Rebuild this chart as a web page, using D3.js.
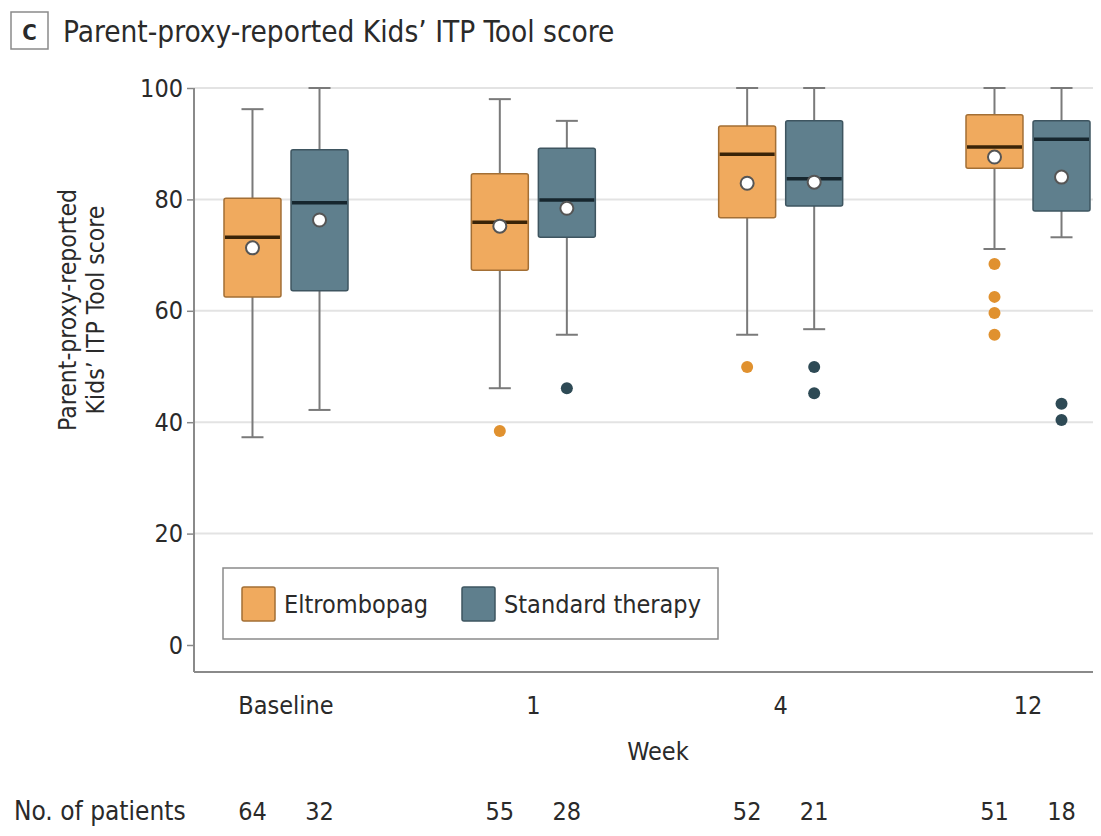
<!DOCTYPE html>
<html>
<head>
<meta charset="utf-8">
<script src="https://cdn.jsdelivr.net/npm/d3@7"></script>
<style>
  html, body { margin: 0; padding: 0; background: #fff; }
  svg { display: block; }
  text { font-family: "DejaVu Sans Condensed", "Roboto", sans-serif; fill: #2a2a2a; }
</style>
</head>
<body>
<svg id="chart" width="1101" height="836"></svg>
<script>
// ---- data ----
const groups = ["Baseline", "1", "4", "12"];
const series = ["Eltrombopag", "Standard therapy"];
const yTicks = [0, 20, 40, 60, 80, 100];

const eltWhiskerLow  = [37.3, 46.1, 55.7, 71.1];
const eltQ1          = [62.5, 67.3, 76.7, 85.6];
const eltMedian      = [73.2, 75.9, 88.1, 89.4];
const eltQ3          = [80.2, 84.6, 93.2, 95.2];
const eltWhiskerHigh = [96.2, 98.0, 100, 100];
const eltMean        = [71.3, 75.2, 82.9, 87.6];
const eltOutliers    = [[], [38.4], [49.9], [68.4, 62.5, 59.6, 55.7]];

const stdWhiskerLow  = [42.2, 55.7, 56.7, 73.2];
const stdQ1          = [63.6, 73.2, 78.8, 77.9];
const stdMedian      = [79.4, 79.9, 83.7, 90.8];
const stdQ3          = [88.9, 89.2, 94.1, 94.1];
const stdWhiskerHigh = [100, 94.1, 100, 100];
const stdMean        = [76.3, 78.4, 83.1, 84.0];
const stdOutliers    = [[], [46.1], [49.9, 45.2], [43.3, 40.4]];

const patientsElt = [64, 55, 52, 51];
const patientsStd = [32, 28, 21, 18];

// ---- styles ----
const fills   = { "Eltrombopag": "#F0AA5E", "Standard therapy": "#5F7F8D" };
const strokes = { "Eltrombopag": "#A36F35", "Standard therapy": "#3E5560" };
const medCol  = { "Eltrombopag": "#3A2408", "Standard therapy": "#16262E" };
const outCol  = { "Eltrombopag": "#E0912F", "Standard therapy": "#2E4A55" };

const boxes = [];
groups.forEach((g, i) => {
  boxes.push({ g, s: series[0], lo: eltWhiskerLow[i], q1: eltQ1[i], med: eltMedian[i], q3: eltQ3[i], hi: eltWhiskerHigh[i], mean: eltMean[i], out: eltOutliers[i], n: patientsElt[i] });
  boxes.push({ g, s: series[1], lo: stdWhiskerLow[i], q1: stdQ1[i], med: stdMedian[i], q3: stdQ3[i], hi: stdWhiskerHigh[i], mean: stdMean[i], out: stdOutliers[i], n: patientsStd[i] });
});

const svg = d3.select("#chart");
const plotLeft = 194, plotRight = 1093, plotBottom = 672;

const y = d3.scaleLinear().domain([0, 100]).range([645, 88]);
const x = d3.scalePoint().domain(groups).range([286, 1028]);
const xs = d3.scaleBand().domain(series).range([-62, 62]).paddingInner(0.15);
const bw = xs.bandwidth();
const cx = d => x(d.g) + xs(d.s) + bw / 2;

// title
svg.append("rect").attr("x", 11).attr("y", 12).attr("width", 37).attr("height", 37)
  .attr("fill", "#fff").attr("stroke", "#8a8a8a").attr("stroke-width", 1.5);
svg.append("text").attr("x", 29.5).attr("y", 40).attr("text-anchor", "middle")
  .style("font-size", "22px").style("font-weight", "bold").text("C");
svg.append("text").attr("x", 63).attr("y", 42)
  .style("font-size", "29.5px").text("Parent-proxy-reported Kids\u2019 ITP Tool score");

// gridlines
svg.append("g").selectAll("line").data(yTicks.filter(t => t > 0)).join("line")
  .attr("x1", plotLeft).attr("x2", plotRight)
  .attr("y1", d => y(d)).attr("y2", d => y(d))
  .attr("stroke", "#e3e3e3").attr("stroke-width", 2);

// y axis
const yAxis = svg.append("g").attr("transform", `translate(${plotLeft},0)`)
  .call(d3.axisLeft(y).tickValues(yTicks).tickSize(7).tickPadding(4));
yAxis.select(".domain").remove();
yAxis.selectAll(".tick line").attr("stroke", "#888").attr("stroke-width", 1.5);
yAxis.selectAll(".tick text").style("font-size", "25px").style("font-family", "'DejaVu Sans Condensed', sans-serif").attr("fill", "#2a2a2a");

svg.append("line").attr("x1", plotLeft).attr("x2", plotLeft).attr("y1", y(100)).attr("y2", plotBottom)
  .attr("stroke", "#8a8a8a").attr("stroke-width", 2);
svg.append("line").attr("x1", plotLeft).attr("x2", plotRight).attr("y1", plotBottom).attr("y2", plotBottom)
  .attr("stroke", "#8a8a8a").attr("stroke-width", 2);

// y axis label
const yl = svg.append("text").attr("transform", `translate(0,310) rotate(-90)`).attr("text-anchor", "middle").style("font-size", "24.5px");
yl.append("tspan").attr("x", 0).attr("y", 76).text("Parent-proxy-reported");
yl.append("tspan").attr("x", 0).attr("y", 104).text("Kids\u2019 ITP Tool score");

// x labels
svg.append("g").selectAll("text").data(groups).join("text")
  .attr("x", d => x(d)).attr("y", 714).attr("text-anchor", "middle").style("font-size", "25px").text(d => d);
svg.append("text").attr("x", (x("1") + x("4")) / 2 + 1).attr("y", 760).attr("text-anchor", "middle").style("font-size", "25px").text("Week");

// patients
svg.append("text").attr("x", 14).attr("y", 820).style("font-size", "26px").text("No. of patients");
svg.append("g").selectAll("text").data(boxes).join("text")
  .attr("x", d => cx(d)).attr("y", 820).attr("text-anchor", "middle").style("font-size", "25px").text(d => d.n);

// whiskers
const bg = svg.append("g");
bg.selectAll("line.wh").data(boxes).join("line").attr("class", "wh")
  .attr("x1", cx).attr("x2", cx).attr("y1", d => y(d.lo)).attr("y2", d => y(d.hi))
  .attr("stroke", "#7a7a7a").attr("stroke-width", 2);
["lo", "hi"].forEach(k => {
  bg.selectAll("line.cap" + k).data(boxes).join("line").attr("class", "cap" + k)
    .attr("x1", d => cx(d) - 11).attr("x2", d => cx(d) + 11)
    .attr("y1", d => y(d[k])).attr("y2", d => y(d[k]))
    .attr("stroke", "#7a7a7a").attr("stroke-width", 2);
});

// boxes
bg.selectAll("rect.box").data(boxes).join("rect").attr("class", "box")
  .attr("x", d => cx(d) - bw / 2).attr("width", bw)
  .attr("y", d => y(d.q3)).attr("height", d => y(d.q1) - y(d.q3))
  .attr("rx", 2)
  .attr("fill", d => fills[d.s]).attr("stroke", d => strokes[d.s]).attr("stroke-width", 1.5);

// medians
bg.selectAll("line.med").data(boxes).join("line").attr("class", "med")
  .attr("x1", d => cx(d) - bw / 2 + 1).attr("x2", d => cx(d) + bw / 2 - 1)
  .attr("y1", d => y(d.med)).attr("y2", d => y(d.med))
  .attr("stroke", d => medCol[d.s]).attr("stroke-width", 3.5);

// means
bg.selectAll("circle.mean").data(boxes).join("circle").attr("class", "mean")
  .attr("cx", cx).attr("cy", d => y(d.mean)).attr("r", 6.5)
  .attr("fill", "#fff").attr("stroke", "#555").attr("stroke-width", 2);

// outliers
const outs = boxes.flatMap(d => d.out.map(v => ({ g: d.g, s: d.s, v })));
bg.selectAll("circle.out").data(outs).join("circle").attr("class", "out")
  .attr("cx", cx).attr("cy", d => y(d.v)).attr("r", 6)
  .attr("fill", d => outCol[d.s]);

// legend
const lg = svg.append("g");
lg.append("rect").attr("x", 223).attr("y", 568).attr("width", 495).attr("height", 71)
  .attr("fill", "#fff").attr("stroke", "#8a8a8a").attr("stroke-width", 1.5);
const legX = { "Eltrombopag": 242, "Standard therapy": 462 };
series.forEach(s => {
  lg.append("rect").attr("x", legX[s]).attr("y", 587).attr("width", 33).attr("height", 34).attr("rx", 2)
    .attr("fill", fills[s]).attr("stroke", strokes[s]).attr("stroke-width", 1.5);
  lg.append("text").attr("x", legX[s] + 42).attr("y", 613).style("font-size", "25px").text(s);
});
</script>
</body>
</html>
